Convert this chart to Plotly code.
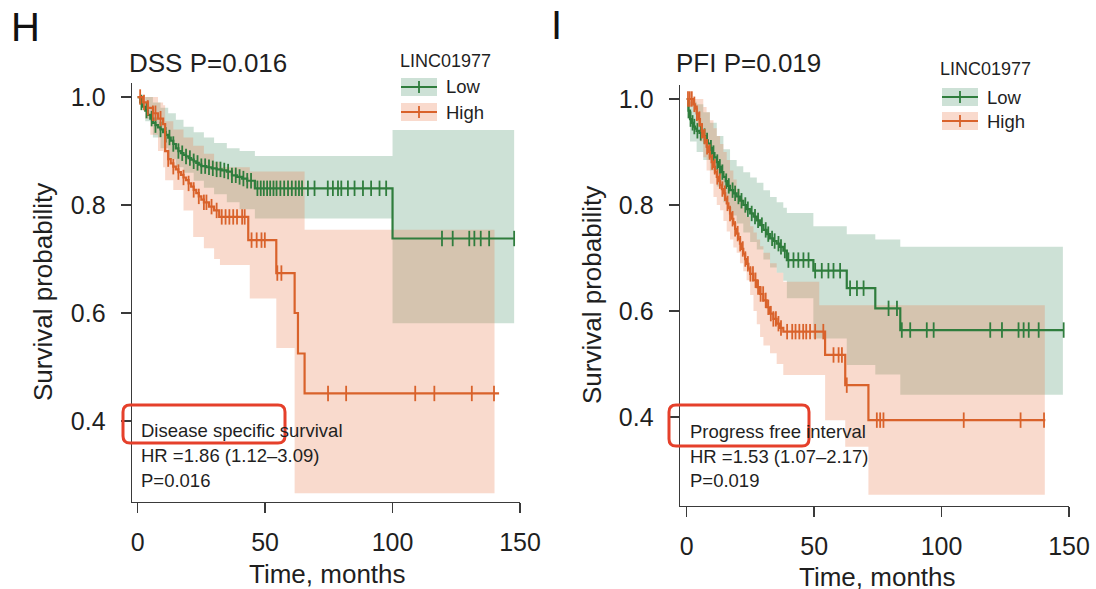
import numpy as np
import plotly.graph_objects as go

W, H = 1096, 589

# ---------------- DSS panel (H) ----------------
dss_low_t = [0, 1, 2, 3, 4, 5, 6, 7, 8, 9, 10, 11, 12, 13, 14, 15, 16, 17, 18, 19, 20, 21, 22, 23, 24, 25,
             27, 29, 31, 33, 35, 37, 39, 41, 43, 46, 100, 147.7]
dss_low_s = [1.0, 0.99, 0.982, 0.975, 0.967, 0.96, 0.952, 0.948, 0.944, 0.94, 0.935, 0.93, 0.925, 0.919, 0.913,
             0.905, 0.9, 0.896, 0.893, 0.89, 0.887, 0.884, 0.881, 0.878, 0.875, 0.872, 0.87, 0.868, 0.866, 0.864,
             0.862, 0.855, 0.852, 0.849, 0.845, 0.831, 0.738, 0.738]
dss_low_cens = [1.5, 3.5, 5.5, 7, 9, 11, 12.5, 14, 16, 17.5, 19, 20.5, 22, 23.5, 25, 26.5, 28, 29.5, 31, 32.5,
                34, 35.5, 37, 38.5, 40, 41.5, 43, 44.5, 47, 48.3, 49.5, 50.8, 52, 53.3, 54.5, 56, 57.5, 59, 60.5,
                62, 63.3, 64.5, 66.8, 69.4, 74.6, 76.6, 78.6, 79.9, 82.5, 85.1, 88.4, 91.6, 94.9, 97.5, 119.4,
                123.6, 130.1, 132.1, 134.6, 137.9, 147.7]
dss_low_band_t = [0, 3, 6, 9, 12, 15, 18, 22, 26, 30, 35, 40, 46, 100, 147.7]
dss_low_band_lo = [1.0, 0.955, 0.925, 0.905, 0.885, 0.87, 0.86, 0.845, 0.832, 0.82, 0.805, 0.792, 0.775, 0.581, 0.581]
dss_low_band_hi = [1.0, 1.0, 0.99, 0.98, 0.97, 0.958, 0.945, 0.935, 0.925, 0.915, 0.905, 0.9, 0.891, 0.939, 0.939]

dss_high_t = [0, 2, 4, 6, 8, 10, 10.8, 12, 13, 14, 15, 16, 17, 18, 19, 20, 21, 22, 23, 24, 25, 26, 28, 30, 32,
              43.4, 54.4, 61.6, 62.9, 65.5, 141.8]
dss_high_s = [1.0, 0.99, 0.98, 0.97, 0.96, 0.95, 0.9, 0.885, 0.877, 0.871, 0.866, 0.861, 0.856, 0.851, 0.846,
              0.84, 0.834, 0.828, 0.822, 0.816, 0.81, 0.805, 0.797, 0.79, 0.778, 0.735, 0.674, 0.60, 0.525,
              0.451, 0.451]
dss_high_cens = [1, 2.5, 4, 6, 7, 9, 12, 14, 16, 18, 20, 22, 24, 26, 27, 29, 31, 33, 34.5, 36, 37.5, 39, 41, 42,
                 44.7, 46.7, 48.6, 49.9, 54.8, 56.4, 74.7, 81.8, 108.9, 116.4, 131.1, 139.8]
dss_high_band_t = [0, 3, 5, 8, 10, 10.8, 14, 18, 21.8, 26, 30, 32.3, 44, 54.4, 61.6, 65.5, 140]
dss_high_band_lo = [1.0, 0.96, 0.93, 0.9, 0.87, 0.846, 0.828, 0.79, 0.741, 0.72, 0.70, 0.689, 0.627, 0.535,
                    0.266, 0.266, 0.266]
dss_high_band_hi = [1.0, 1.0, 1.0, 0.99, 0.985, 0.955, 0.94, 0.925, 0.91, 0.895, 0.88, 0.87, 0.862, 0.862,
                    0.862, 0.754, 0.754]

# ---------------- PFI panel (I) ----------------
pfi_low_t = [0, 0.7, 1.3, 2, 2.6, 3.3, 3.9, 5, 6.5, 7.5, 8.3, 9.1, 10, 10.9, 11.8, 12.6, 13.5, 14.4, 15.3, 16.1,
             17, 18.3, 19.6, 20.9, 22.2, 23.5, 24.9, 26.2, 27.5, 28.8, 30.1, 31.4, 32.7, 34, 35.3, 36.6, 37.9,
             39.3, 49.7, 62.8, 74, 83.8, 147.9]
pfi_low_s = [1.0, 0.978, 0.962, 0.955, 0.948, 0.944, 0.94, 0.936, 0.93, 0.922, 0.916, 0.908, 0.898, 0.89, 0.881,
             0.872, 0.862, 0.853, 0.845, 0.836, 0.828, 0.822, 0.816, 0.808, 0.80, 0.792, 0.784, 0.778, 0.771,
             0.762, 0.753, 0.745, 0.737, 0.732, 0.727, 0.721, 0.714, 0.696, 0.676, 0.643, 0.605, 0.564, 0.564]
pfi_low_cens = [0.7, 1.5, 2.3, 3, 4.2, 5.5, 7, 8, 9.5, 10.5, 12, 13, 14, 15.5, 16.5, 18, 19, 20.3, 21.5, 23, 24,
                25.5, 26.8, 28, 29.5, 31, 32, 33.5, 34.5, 36, 37, 38.5, 39.9, 41.9, 43.8, 45.8, 47.8, 50.4, 53,
                55.6, 57.6, 60.2, 64.1, 66.8, 69.4, 79.2, 82.5, 84.4, 87.7, 94.2, 96.9, 119.1, 123.7, 130.2,
                132.2, 134.2, 138.1, 147.9]
pfi_low_band_t = [0, 1.3, 3.9, 6.5, 9.1, 11.8, 14.4, 17, 19.6, 22.2, 24.9, 27.5, 30.1, 32.7, 35.3, 37.9, 39.3,
                  49.7, 62.8, 74, 83.8, 147.6]
pfi_low_band_lo = [1.0, 0.92, 0.9, 0.885, 0.865, 0.835, 0.805, 0.78, 0.765, 0.748, 0.73, 0.716, 0.697, 0.682,
                   0.672, 0.657, 0.624, 0.548, 0.498, 0.48, 0.442, 0.442]
pfi_low_band_hi = [1.0, 0.995, 0.99, 0.975, 0.955, 0.93, 0.905, 0.885, 0.873, 0.862, 0.852, 0.842, 0.828,
                   0.815, 0.805, 0.795, 0.785, 0.76, 0.745, 0.735, 0.721, 0.721]

pfi_high_t = [0, 2.6, 3.3, 3.9, 4.6, 5.2, 5.9, 6.5, 7.2, 7.8, 8.5, 9.1, 9.8, 10.5, 11.1, 11.8, 12.4, 13.1, 13.8,
              14.4, 15.1, 15.7, 16.4, 17, 17.7, 18.3, 19, 19.6, 20.3, 20.9, 21.6, 22.2, 22.9, 23.5, 24.2, 24.9,
              26.2, 27.5, 28.8, 30.1, 31.4, 32.7, 34, 35.3, 36.6, 37.9, 54.3, 62.2, 71.3, 140.7]
pfi_high_s = [1.0, 0.99, 0.982, 0.973, 0.962, 0.951, 0.94, 0.929, 0.919, 0.91, 0.9, 0.891, 0.881, 0.872, 0.862,
              0.853, 0.845, 0.838, 0.83, 0.822, 0.812, 0.803, 0.794, 0.784, 0.774, 0.765, 0.755, 0.746, 0.736,
              0.727, 0.717, 0.708, 0.698, 0.689, 0.68, 0.67, 0.658, 0.645, 0.632, 0.62, 0.607, 0.595, 0.585,
              0.576, 0.568, 0.561, 0.517, 0.46, 0.394, 0.394]
pfi_high_cens = [0.5, 1.2, 2, 3, 4, 5, 6, 7, 8, 9, 10, 11, 12, 13, 14, 15, 16, 17, 18, 19, 20, 21, 22, 23, 24,
                 25, 26, 27, 28, 29, 30, 31, 32, 33, 34, 35, 36, 37, 39.4, 41.4, 42.7, 44.2, 45.7, 46.9, 48.4,
                 50.4, 53.6, 57.6, 59.6, 60.9, 62.8, 74.6, 75.9, 77.2, 108.7, 131, 140.2]
pfi_high_band_t = [0, 2.6, 3.9, 5.2, 6.5, 7.8, 9.1, 10.5, 11.8, 13.1, 14.4, 15.7, 17, 18.3, 19.6, 20.9, 22.2,
                   23.5, 24.9, 26.2, 27.5, 28.8, 30.1, 32.7, 35.3, 37.9, 52, 54.3, 62.2, 71.3, 140.5]
pfi_high_band_lo = [1.0, 0.975, 0.95, 0.92, 0.89, 0.865, 0.84, 0.815, 0.8, 0.79, 0.77, 0.75, 0.735, 0.72, 0.71,
                    0.69, 0.675, 0.658, 0.63, 0.6, 0.575, 0.551, 0.535, 0.52, 0.5, 0.479, 0.479, 0.394, 0.344,
                    0.253, 0.253]
pfi_high_band_hi = [1.0, 1.0, 1.0, 1.0, 0.985, 0.975, 0.96, 0.945, 0.93, 0.915, 0.9, 0.885, 0.865, 0.848, 0.83,
                    0.812, 0.795, 0.778, 0.76, 0.748, 0.735, 0.722, 0.71, 0.69, 0.672, 0.655, 0.611, 0.611,
                    0.611, 0.611, 0.611]

x_ticks = [0, 50, 100, 150]
y_ticks = [0.4, 0.6, 0.8, 1.0]
y_ticktext = ["0.4", "0.6", "0.8", "1.0"]

GREEN = "#2f7d3d"
ORANGE = "#d9622b"
GREEN_FILL = "rgba(62,140,98,0.26)"
ORANGE_FILL = "rgba(232,122,74,0.28)"
TXT = "#1f1f1f"
FONT = "Liberation Sans, Arial, Helvetica, sans-serif"
AX = "#3a3a3a"


def X(p):
    return p / W


def Y(p):
    return 1 - p / H


def step_at(t, s, c):
    t = np.asarray(t, float)
    s = np.asarray(s, float)
    idx = np.searchsorted(t, np.asarray(c, float), side="right") - 1
    return s[np.clip(idx, 0, len(s) - 1)]


fig = go.Figure()

panels = [
    dict(xa="x", ya="y",
         low=(dss_low_t, dss_low_s, dss_low_cens, dss_low_band_t, dss_low_band_lo, dss_low_band_hi),
         high=(dss_high_t, dss_high_s, dss_high_cens, dss_high_band_t, dss_high_band_lo, dss_high_band_hi)),
    dict(xa="x2", ya="y2",
         low=(pfi_low_t, pfi_low_s, pfi_low_cens, pfi_low_band_t, pfi_low_band_lo, pfi_low_band_hi),
         high=(pfi_high_t, pfi_high_s, pfi_high_cens, pfi_high_band_t, pfi_high_band_lo, pfi_high_band_hi)),
]

for p in panels:
    # confidence bands first
    for key, fillc in (("low", GREEN_FILL), ("high", ORANGE_FILL)):
        t, s, c, bt, blo, bhi = p[key]
        fig.add_trace(go.Scatter(x=bt, y=blo, mode="lines", line=dict(width=0, shape="hv"),
                                 xaxis=p["xa"], yaxis=p["ya"], showlegend=False, hoverinfo="skip"))
        fig.add_trace(go.Scatter(x=bt, y=bhi, mode="lines", line=dict(width=0, shape="hv"),
                                 fill="tonexty", fillcolor=fillc,
                                 xaxis=p["xa"], yaxis=p["ya"], showlegend=False, hoverinfo="skip"))
    for key, col, name in (("low", GREEN, "Low"), ("high", ORANGE, "High")):
        t, s, c, bt, blo, bhi = p[key]
        fig.add_trace(go.Scatter(x=t, y=s, mode="lines", line=dict(color=col, width=2.2, shape="hv"),
                                 xaxis=p["xa"], yaxis=p["ya"], showlegend=False, name=name))
        fig.add_trace(go.Scatter(x=c, y=step_at(t, s, c), mode="markers",
                                 marker=dict(symbol="line-ns", size=11, color=col,
                                             line=dict(width=1.8, color=col)),
                                 xaxis=p["xa"], yaxis=p["ya"], showlegend=False, name=name + " censored"))

axis_common = dict(showline=True, linecolor=AX, linewidth=1.4, ticks="outside", ticklen=10, tickwidth=1.4,
                   tickcolor=AX, showgrid=False, zeroline=False,
                   tickfont=dict(family=FONT, size=25, color=TXT))

fig.update_layout(
    width=W, height=H, autosize=False, margin=dict(l=0, r=0, t=0, b=0, autoexpand=False),
    paper_bgcolor="white", plot_bgcolor="white", showlegend=False, hovermode=False,
    xaxis=dict(domain=[X(132), X(520)], range=[-2.2, 150], tickvals=x_ticks, anchor="y",
               ticklabelstandoff=8, **axis_common),
    yaxis=dict(domain=[Y(502), Y(83)], range=[0.25, 1.026], tickvals=y_ticks, ticktext=y_ticktext,
               anchor="x", ticklabelstandoff=10, **axis_common),
    xaxis2=dict(domain=[X(680), X(1069)], range=[-2.63, 150], tickvals=x_ticks, anchor="y2",
                ticklabelstandoff=8, **axis_common),
    yaxis2=dict(domain=[Y(506), Y(85)], range=[0.232, 1.0264], tickvals=y_ticks, ticktext=y_ticktext,
                anchor="x2", ticklabelstandoff=10, **axis_common),
)

ann = []


def text(x, y, s, size, xanchor="left", yanchor="middle", angle=0, color=TXT):
    ann.append(dict(x=X(x), y=Y(y), xref="paper", yref="paper", text=s, showarrow=False,
                    xanchor=xanchor, yanchor=yanchor, textangle=angle,
                    font=dict(family=FONT, size=size, color=color)))


# panel letters & titles
text(9, 27, "H", 40, color="#111")
text(549, 25, "I", 40, color="#111")
text(127, 63, "DSS P=0.016", 26)
text(674, 63, "PFI P=0.019", 26)

# axis titles
text(43, 292, "Survival probability", 26, xanchor="center", angle=-90)
text(592, 295, "Survival probability", 26, xanchor="center", angle=-90)
text(327, 574, "Time, months", 26, xanchor="center")
text(877, 577, "Time, months", 26, xanchor="center")

# stats text
for x0, lines, ys in ((139, ["Disease specific survival", "HR =1.86 (1.12\u20133.09)", "P=0.016"], (430, 455, 480)),
                      (688, ["Progress free interval", "HR =1.53 (1.07\u20132.17)", "P=0.019"], (431, 456, 480))):
    for s, yy in zip(lines, ys):
        text(x0, yy, s, 18.5)

shapes = []


def rounded(x0, y0, x1, y1, r):
    return (f"M {X(x0 + r)},{Y(y0)} L {X(x1 - r)},{Y(y0)} Q {X(x1)},{Y(y0)} {X(x1)},{Y(y0 + r)} "
            f"L {X(x1)},{Y(y1 - r)} Q {X(x1)},{Y(y1)} {X(x1 - r)},{Y(y1)} "
            f"L {X(x0 + r)},{Y(y1)} Q {X(x0)},{Y(y1)} {X(x0)},{Y(y1 - r)} "
            f"L {X(x0)},{Y(y0 + r)} Q {X(x0)},{Y(y0)} {X(x0 + r)},{Y(y0)} Z")


for box in ((123, 405, 285, 443), (669, 405, 809, 446)):
    shapes.append(dict(type="path", path=rounded(*box, 7), xref="paper", yref="paper",
                       line=dict(color="#e5402b", width=3), layer="above"))

# legends
for (tx, ty, bx, yl, yh) in ((398, 61, 401, 87, 112), (938, 69, 942, 97, 121)):
    text(tx, ty, "LINC01977", 18)
    for yc, col, fillc, name in ((yl, GREEN, GREEN_FILL, "Low"), (yh, ORANGE, ORANGE_FILL, "High")):
        shapes.append(dict(type="rect", xref="paper", yref="paper", x0=X(bx), x1=X(bx + 36),
                           y0=Y(yc + 9), y1=Y(yc - 9), fillcolor=fillc, line=dict(width=0), layer="above"))
        shapes.append(dict(type="line", xref="paper", yref="paper", x0=X(bx), x1=X(bx + 36),
                           y0=Y(yc), y1=Y(yc), line=dict(color=col, width=2.2), layer="above"))
        shapes.append(dict(type="line", xref="paper", yref="paper", x0=X(bx + 18), x1=X(bx + 18),
                           y0=Y(yc - 6), y1=Y(yc + 6), line=dict(color=col, width=1.8), layer="above"))
        text(bx + 43, yc, name, 18.5)

fig.update_layout(annotations=ann, shapes=shapes)

post = ("document.documentElement.style.margin='0';document.documentElement.style.overflow='hidden';"
        "document.body.style.margin='0';document.body.style.padding='0';document.body.style.overflow='hidden';"
        "var gd=document.getElementById('{plot_id}');"
        "Plotly.relayout(gd,{width:%d,height:%d});" % (W, H))
fig.write_html("out.html", config={"responsive": False, "displayModeBar": False, "staticPlot": True},
               post_script=post)
